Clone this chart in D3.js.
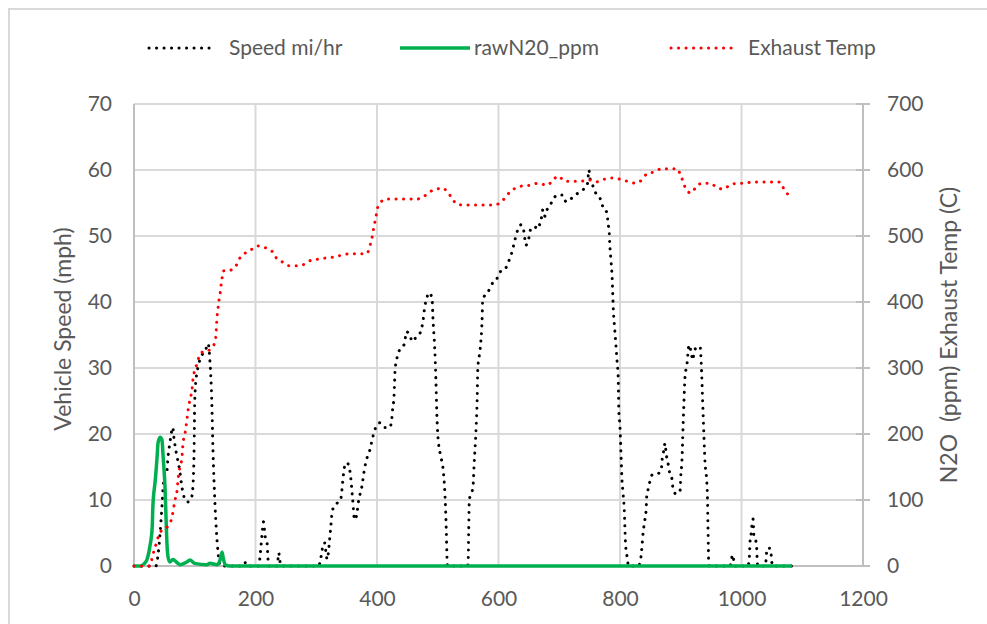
<!DOCTYPE html>
<html><head><meta charset="utf-8">
<script src="https://cdn.jsdelivr.net/npm/d3@7"></script>
<style>
body{margin:0;background:#fff}
svg{display:block}
text{font-family:Lato,"Open Sans",sans-serif;fill:#595959}
</style>
</head><body>
<svg id="chart" width="987" height="624"></svg>
<script>
// ---- data ----
const xTicks = [0, 200, 400, 600, 800, 1000, 1200];
const speedTicks = [0, 10, 20, 30, 40, 50, 60, 70];
const rightTicks = [0, 100, 200, 300, 400, 500, 600, 700];
const seriesNames = ["Speed mi/hr", "rawN20_ppm", "Exhaust Temp"];

const speedTime = [0,36,40,43,46,48,51,54,56,59,64,65,68,71,73,76,78,81,84,89,95,97,99,100,103,105,112,117,122,125,128,130,133,138,142,
  180,183,186,205,207,209,211,213,216,219,220,221,222,235,237,238,240,241,
  304,306,309,312,314,316,318,320,322,324,326,329,334,340,345,348,352,356,360,363,366,370,375,380,384,388,393,398,
  405,413,421,424,426,428,429,430,432,435,441,446,448,454,458,463,471,476,479,487,491,492,495,497,498.5,500,504,509,512,514,515.5,516,
  549,550,551,552,558,560,563,565,566,570,573,574,581,586,591,596,602,611,616,622,627,632,637,642,645,650,653.5,660,665,668,672,673,676.5,680,685,690,696,701,706,711,718,723,731,739,746,749,750,755,759,764,770,772,779,780,782,783,785,787,788,789,791,793,795,797,797.5,798,800,801,802,803,805,807,808,809,812,814,
  830,833,836,838,841,843,844,846,849,853,858,863,868,869,871,873,874,876,879,882,886,887,891,894,897,899,900,902,903,904,905,906,907,909,911,912,914,917,920,922,927,932,933,934,935,936,937,938,939,940,941,943,944,944.5,945,945.5,946,947,
  981,983,985,987,989,1011,1012,1013,1014,1016,1017,1019,1020.6,1023,1025,1026,1027,1039,1040,1041,1042,1046,1048,1049,1050,1051,1083];
const speedValue = [0,0,2,5,9,12,14,14.2,16.5,18.6,21,20,18,16.5,15.6,14,12.5,11,10,9.7,10.5,12,18,25,29,30,32,32.5,33.7,31,25,17.5,10,2.4,0,
  0,0.5,0,0,1,3,5,6.7,4.4,3.5,2,0.5,0,0,1,2,1,0,
  0,0.5,2,3.5,3.5,2,1,2,4,6,8,9,9.5,10,14,15.6,15.5,14,10,7,7.5,10,12,15,16.5,17.5,19.5,21,
  21.7,21,21,22,24,25.6,28,30,31,32.4,33,34,35.5,35,34,34.5,35.3,37.3,39.5,41.4,40,37.7,33,28,23,20,17,14.5,10.5,5.5,0.5,0,
  0,0.5,5.5,10,12,15.6,20.6,25.6,30,33,37.3,40.3,41.4,42,43,43.3,44.5,45,46,47.5,49.4,51,51.7,50.6,48.6,49.7,51.2,51.2,52,51.7,53.5,54,53,54,54.7,55.5,56.2,56.2,56.2,55.2,55.5,56,56.5,57,57.7,60,59,57.7,56.7,56,55.2,54.2,53.5,52,51,49,46.4,43.8,41.4,38.8,36.2,33.8,31.2,28.6,26.2,23.6,21,18.6,16,13.5,11,8.5,6,3.5,1.2,0,
  0,0.5,2.7,5,7,8.5,10.5,11.5,12.7,13.8,13.8,14,14.5,15.8,17,18,18.6,17,15.6,14,13,11.8,11,11.5,11.5,11.5,13.5,16,18.6,21.7,24,26.7,28.6,30,31.2,32.4,33.5,32.4,31.2,32.4,33.2,33.2,32,30,27.7,25,22.6,20,17.6,15.6,14.5,12.6,10,7.4,5,2.4,0.5,0,
  0,0.5,1.7,1,0,0,0.5,1.4,3.6,5,6,7.1,4.4,4,2.7,0.5,0,0,0.5,1.7,2.7,2.7,2.6,1.5,0.5,0,0];

const n2oTime = [0,12,15,21,26,30,31,35,38,39.5,43,46,48,51,52.7,54,56,59,64,71,76,87,92,100,120,125,137,141.6,145,146.5,150,158,1083];
const n2oValue = [0,0,2,9,29,59,89,130,165,186,195,191,165,120,74,39,14,6,10,5,2,6,9,4,2,4,2,9,21,14,2,0,0];

const tempTime = [0,26,31,36,41,48,56,62,67.5,71,72.4,75.7,79,80.7,84,87,89,92,95.5,97,104,110,122,133,135,136.6,138,140,141.6,143,145,146.5,158,168,174.5,183,194,204,217,227,234,243.6,255,268,280,291,304.5,318,329,342,355.6,368.7,382,387,390,393,395,398,400,405,415,426,441,454,466,479,487,499,507,515,523,532,541.6,553,566,579,592.6,602,611,619,629,640,653.5,665,680,690,698,709.5,723,736,749,762,774,787,800,811.5,825,836,844,856,869,881,894,899,904,909,917,925,935,948,959,969.5,981,994,1006,1019,1032,1045,1058,1063,1070,1078];
const tempValue = [0,0,17,32,47,56,60,72,100,115,130,150,165,186,201,221,236,252,267,282,307,323,326,338,350,376,388,403,412,423,436,447,448,455,467,474,480,485,482,477,467,461,455,455,457,463,465,467,468,471,473,473,473,480,491,503,515,527,539,550,556,556,556,556,556,561,567,571,573,568,558,548,547,547,547,547,547,550,558,567,573,576,577,580,577,585,591,583,583,583,585,582,586,588,586,583,580,585,594,597,602,602,602,594,582,570,565,574,580,580,574,571,577,580,580,582,582,582,582,582,571,561,550];

// ---- layout ----
const svg = d3.select("#chart");
const X0 = 134, X1 = 863, Y0 = 566, Y1 = 104;
const x = d3.scaleLinear().domain([0, 1200]).range([X0, X1]);
const yL = d3.scaleLinear().domain([0, 70]).range([Y0, Y1]);
const yR = d3.scaleLinear().domain([0, 700]).range([Y0, Y1]);

// outer frame
svg.append("rect").attr("x", 9).attr("y", 9).attr("width", 1200).attr("height", 1200)
  .attr("fill", "#fff").attr("stroke", "#d9d9d9").attr("stroke-width", 2);

// gridlines
svg.append("g").selectAll("line").data(speedTicks.slice(1)).join("line")
  .attr("x1", X0).attr("x2", X1).attr("y1", d => yL(d)).attr("y2", d => yL(d))
  .attr("stroke", "#d9d9d9").attr("stroke-width", 2);
svg.append("g").selectAll("line").data(xTicks.slice(1, -1)).join("line")
  .attr("x1", d => x(d)).attr("x2", d => x(d)).attr("y1", Y1).attr("y2", Y0)
  .attr("stroke", "#d9d9d9").attr("stroke-width", 2);

// axis lines
svg.append("line").attr("x1", X0).attr("x2", X0).attr("y1", Y1).attr("y2", Y0).attr("stroke", "#bfbfbf").attr("stroke-width", 2);
svg.append("line").attr("x1", X1).attr("x2", X1).attr("y1", Y1).attr("y2", Y0).attr("stroke", "#bfbfbf").attr("stroke-width", 2);
svg.append("line").attr("x1", X0).attr("x2", X1).attr("y1", Y0).attr("y2", Y0).attr("stroke", "#bfbfbf").attr("stroke-width", 2);
// right axis cross ticks
svg.append("g").selectAll("line").data(rightTicks).join("line")
  .attr("x1", X1 - 7).attr("x2", X1 + 7).attr("y1", d => yR(d)).attr("y2", d => yR(d))
  .attr("stroke", "#bfbfbf").attr("stroke-width", 2);

// axes labels via d3 axes
const fs = 21;
const gx = svg.append("g").attr("transform", `translate(0,${Y0})`)
  .call(d3.axisBottom(x).tickValues(xTicks).tickSize(0).tickPadding(25).tickFormat(d3.format("d")));
const gl = svg.append("g").attr("transform", `translate(${X0},0)`)
  .call(d3.axisLeft(yL).tickValues(speedTicks).tickSize(0).tickPadding(22).tickFormat(d3.format("d")));
const gr = svg.append("g").attr("transform", `translate(${X1},0)`)
  .call(d3.axisRight(yR).tickValues(rightTicks).tickSize(0).tickPadding(24).tickFormat(d3.format("d")));
[gx, gl, gr].forEach(g => {
  g.select(".domain").remove();
  g.selectAll("text").attr("font-size", fs).attr("font-family", "Lato, sans-serif").attr("fill", "#595959");
});

// axis titles
svg.append("text").attr("transform", "translate(62,329) rotate(-90)")
  .attr("text-anchor", "middle").attr("dominant-baseline", "central").attr("font-size", 23)
  .text("Vehicle Speed (mph)");
svg.append("text").attr("transform", "translate(948,335) rotate(-90)")
  .attr("text-anchor", "middle").attr("dominant-baseline", "central").attr("font-size", 23)
  .attr("xml:space", "preserve").style("white-space", "pre")
  .text("N2O  (ppm) Exhaust Temp (C)");

// series
const clip = svg.append("defs").append("clipPath").attr("id", "pc");
clip.append("rect").attr("x", X0 - 5).attr("y", Y1 - 5).attr("width", X1 - X0 + 10).attr("height", Y0 - Y1 + 10);

const speedData = speedTime.map((t, i) => ({ t, v: speedValue[i] }));
const n2oData = n2oTime.map((t, i) => ({ t, v: n2oValue[i] }));
const tempData = tempTime.map((t, i) => ({ t, v: tempValue[i] }));

const lineL = d3.line().x(d => x(d.t)).y(d => yL(d.v)).curve(d3.curveMonotoneX);
const lineR = d3.line().x(d => x(d.t)).y(d => yR(d.v)).curve(d3.curveMonotoneX);

const plot = svg.append("g").attr("clip-path", "url(#pc)");
plot.append("path").datum(speedData).attr("d", lineL).attr("fill", "none")
  .attr("stroke", "#000").attr("stroke-width", 3).attr("stroke-linecap", "round")
  .attr("stroke-dasharray", "0.1 7.4");
plot.append("path").datum(n2oData).attr("d", lineR).attr("fill", "none")
  .attr("stroke", "#00b050").attr("stroke-width", 3.5).attr("stroke-linejoin", "round");
plot.append("path").datum(tempData).attr("d", lineR).attr("fill", "none")
  .attr("stroke", "#ff0000").attr("stroke-width", 3).attr("stroke-linecap", "round")
  .attr("stroke-dasharray", "0.1 7.4");

// legend
const legend = [
  { name: seriesNames[0], x1: 149, x2: 214, tx: 229, color: "#000", dash: "0.1 7.4", w: 3 },
  { name: seriesNames[1], x1: 400, x2: 470, tx: 474, color: "#00b050", dash: null, w: 3.5 },
  { name: seriesNames[2], x1: 671, x2: 735, tx: 748, color: "#ff0000", dash: "0.1 7.4", w: 3 }
];
const lg = svg.append("g").selectAll("g").data(legend).join("g");
lg.append("line").attr("x1", d => d.x1).attr("x2", d => d.x2).attr("y1", 48).attr("y2", 48)
  .attr("stroke", d => d.color).attr("stroke-width", d => d.w)
  .attr("stroke-linecap", d => d.dash ? "round" : "butt")
  .attr("stroke-dasharray", d => d.dash);
lg.append("text").attr("x", d => d.tx).attr("y", 48).attr("dy", "0.35em").attr("font-size", 21)
  .text(d => d.name);
</script>
</body></html>
